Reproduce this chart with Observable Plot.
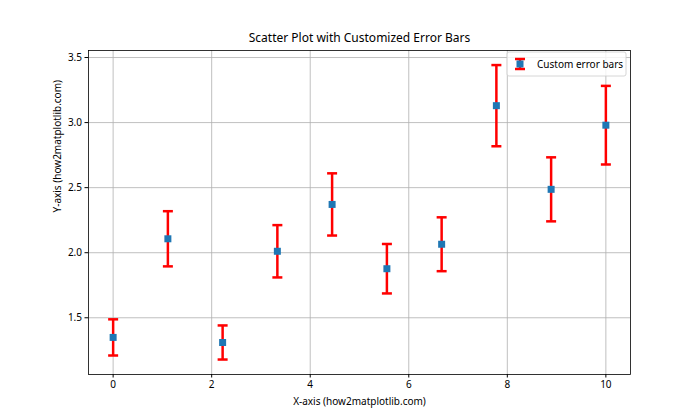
<!DOCTYPE html>
<html>
<head>
<meta charset="utf-8">
<script src="https://cdn.jsdelivr.net/npm/d3@7"></script>
<script src="https://cdn.jsdelivr.net/npm/@observablehq/plot@0.6"></script>
<style>
  html, body { margin: 0; padding: 0; background: #fff; }
  #chart svg { display: block; font-family: "Noto Sans", "Open Sans", sans-serif; }
</style>
</head>
<body>
<div id="chart"></div>
<script>
const xValues = [0, 1.111, 2.222, 3.333, 4.444, 5.556, 6.667, 7.778, 8.889, 10];
const yValues = [1.349, 2.107, 1.310, 2.011, 2.371, 1.877, 2.065, 3.130, 2.487, 2.980];
const yErrors = [0.139, 0.212, 0.131, 0.201, 0.239, 0.190, 0.207, 0.312, 0.246, 0.302];
const xTicks = [0, 2, 4, 6, 8, 10];
const yTicks = [1.5, 2.0, 2.5, 3.0, 3.5];
const titleText = "Scatter Plot with Customized Error Bars";
const xLabel = "X-axis (how2matplotlib.com)";
const yLabel = "Y-axis (how2matplotlib.com)";
const legendLabel = "Custom error bars";

const data = xValues.map((x, i) => ({x, y: yValues[i], lo: yValues[i] - yErrors[i], hi: yValues[i] + yErrors[i]}));

const capSymbol = {
  draw(ctx, size) {
    const r = Math.sqrt(size / Math.PI);
    ctx.moveTo(-r, 0);
    ctx.lineTo(r, 0);
  }
};
const squareSymbol = {
  draw(ctx, size) {
    const r = Math.sqrt(size / Math.PI);
    ctx.rect(-r, -r, 2 * r, 2 * r);
  }
};

const W = 700, H = 420;
const mL = 88, mR = 70, mT = 50, mB = 46;

const chart = Plot.plot({
  width: W,
  height: H,
  marginLeft: mL,
  marginRight: mR,
  marginTop: mT,
  marginBottom: mB,
  style: {fontSize: "10px", color: "#000", background: "#fff"},
  x: {domain: [-0.5, 10.5], ticks: xTicks, tickSize: 3.5, tickPadding: 3, label: null, tickFormat: d3.format("d")},
  y: {domain: [1.064, 3.554], ticks: yTicks, tickSize: 3.5, tickPadding: 3, label: null, tickFormat: d3.format(".1f")},
  marks: [
    Plot.gridX(xTicks, {stroke: "#b0b0b0", strokeOpacity: 1, strokeWidth: 0.8}),
    Plot.gridY(yTicks, {stroke: "#b0b0b0", strokeOpacity: 1, strokeWidth: 0.8}),
    Plot.axisX(xTicks, {tickSize: 3.5, tickPadding: 3, fontSize: 10, tickFormat: d3.format("d"), label: null}),
    Plot.axisY(yTicks, {tickSize: 3.5, tickPadding: 3, fontSize: 10, tickFormat: d3.format(".1f"), label: null}),
    Plot.ruleX(data, {x: "x", y1: "lo", y2: "hi", stroke: "red", strokeWidth: 2.5}),
    Plot.dot(data, {x: "x", y: "hi", symbol: capSymbol, r: 5, stroke: "red", strokeWidth: 2.5, fill: "none"}),
    Plot.dot(data, {x: "x", y: "lo", symbol: capSymbol, r: 5, stroke: "red", strokeWidth: 2.5, fill: "none"}),
    Plot.dot(data, {x: "x", y: "y", symbol: squareSymbol, r: 3.5, fill: "#1f77b4", stroke: "none"}),
    Plot.frame({stroke: "#000", strokeWidth: 0.8, strokeOpacity: 1}),
    Plot.text([titleText], {frameAnchor: "top", dy: -9, fontSize: 12, fill: "#000", lineAnchor: "bottom"}),
    Plot.text([xLabel], {frameAnchor: "bottom", dy: 27, fontSize: 10, fill: "#000", lineAnchor: "middle"}),
    Plot.text([yLabel], {frameAnchor: "left", dx: -31, rotate: -90, fontSize: 10, fill: "#000", lineAnchor: "middle"})
  ]
});

document.getElementById("chart").appendChild(chart);

// Legend (matplotlib-style, upper right inside axes)
const svg = d3.select(chart);
const lx = 507, ly = 52, lw = 119, lh = 24;
const g = svg.append("g");
g.append("rect").attr("x", lx).attr("y", ly).attr("width", lw).attr("height", lh)
  .attr("rx", 2).attr("fill", "#fff").attr("fill-opacity", 0.8)
  .attr("stroke", "#cccccc").attr("stroke-width", 0.8);
const cx = lx + 13, cy = ly + lh / 2;
g.append("line").attr("x1", cx).attr("x2", cx).attr("y1", cy - 5).attr("y2", cy + 5).attr("stroke", "red").attr("stroke-width", 2.5);
g.append("line").attr("x1", cx - 5).attr("x2", cx + 5).attr("y1", cy - 5).attr("y2", cy - 5).attr("stroke", "red").attr("stroke-width", 2.5);
g.append("line").attr("x1", cx - 5).attr("x2", cx + 5).attr("y1", cy + 5).attr("y2", cy + 5).attr("stroke", "red").attr("stroke-width", 2.5);
g.append("rect").attr("x", cx - 3.5).attr("y", cy - 3.5).attr("width", 7).attr("height", 7).attr("fill", "#1f77b4");
g.append("text").attr("x", lx + 30).attr("y", cy).attr("dy", "0.35em")
  .attr("text-anchor", "start")
  .attr("font-size", 10).attr("fill", "#000").text(legendLabel);
</script>
</body>
</html>
